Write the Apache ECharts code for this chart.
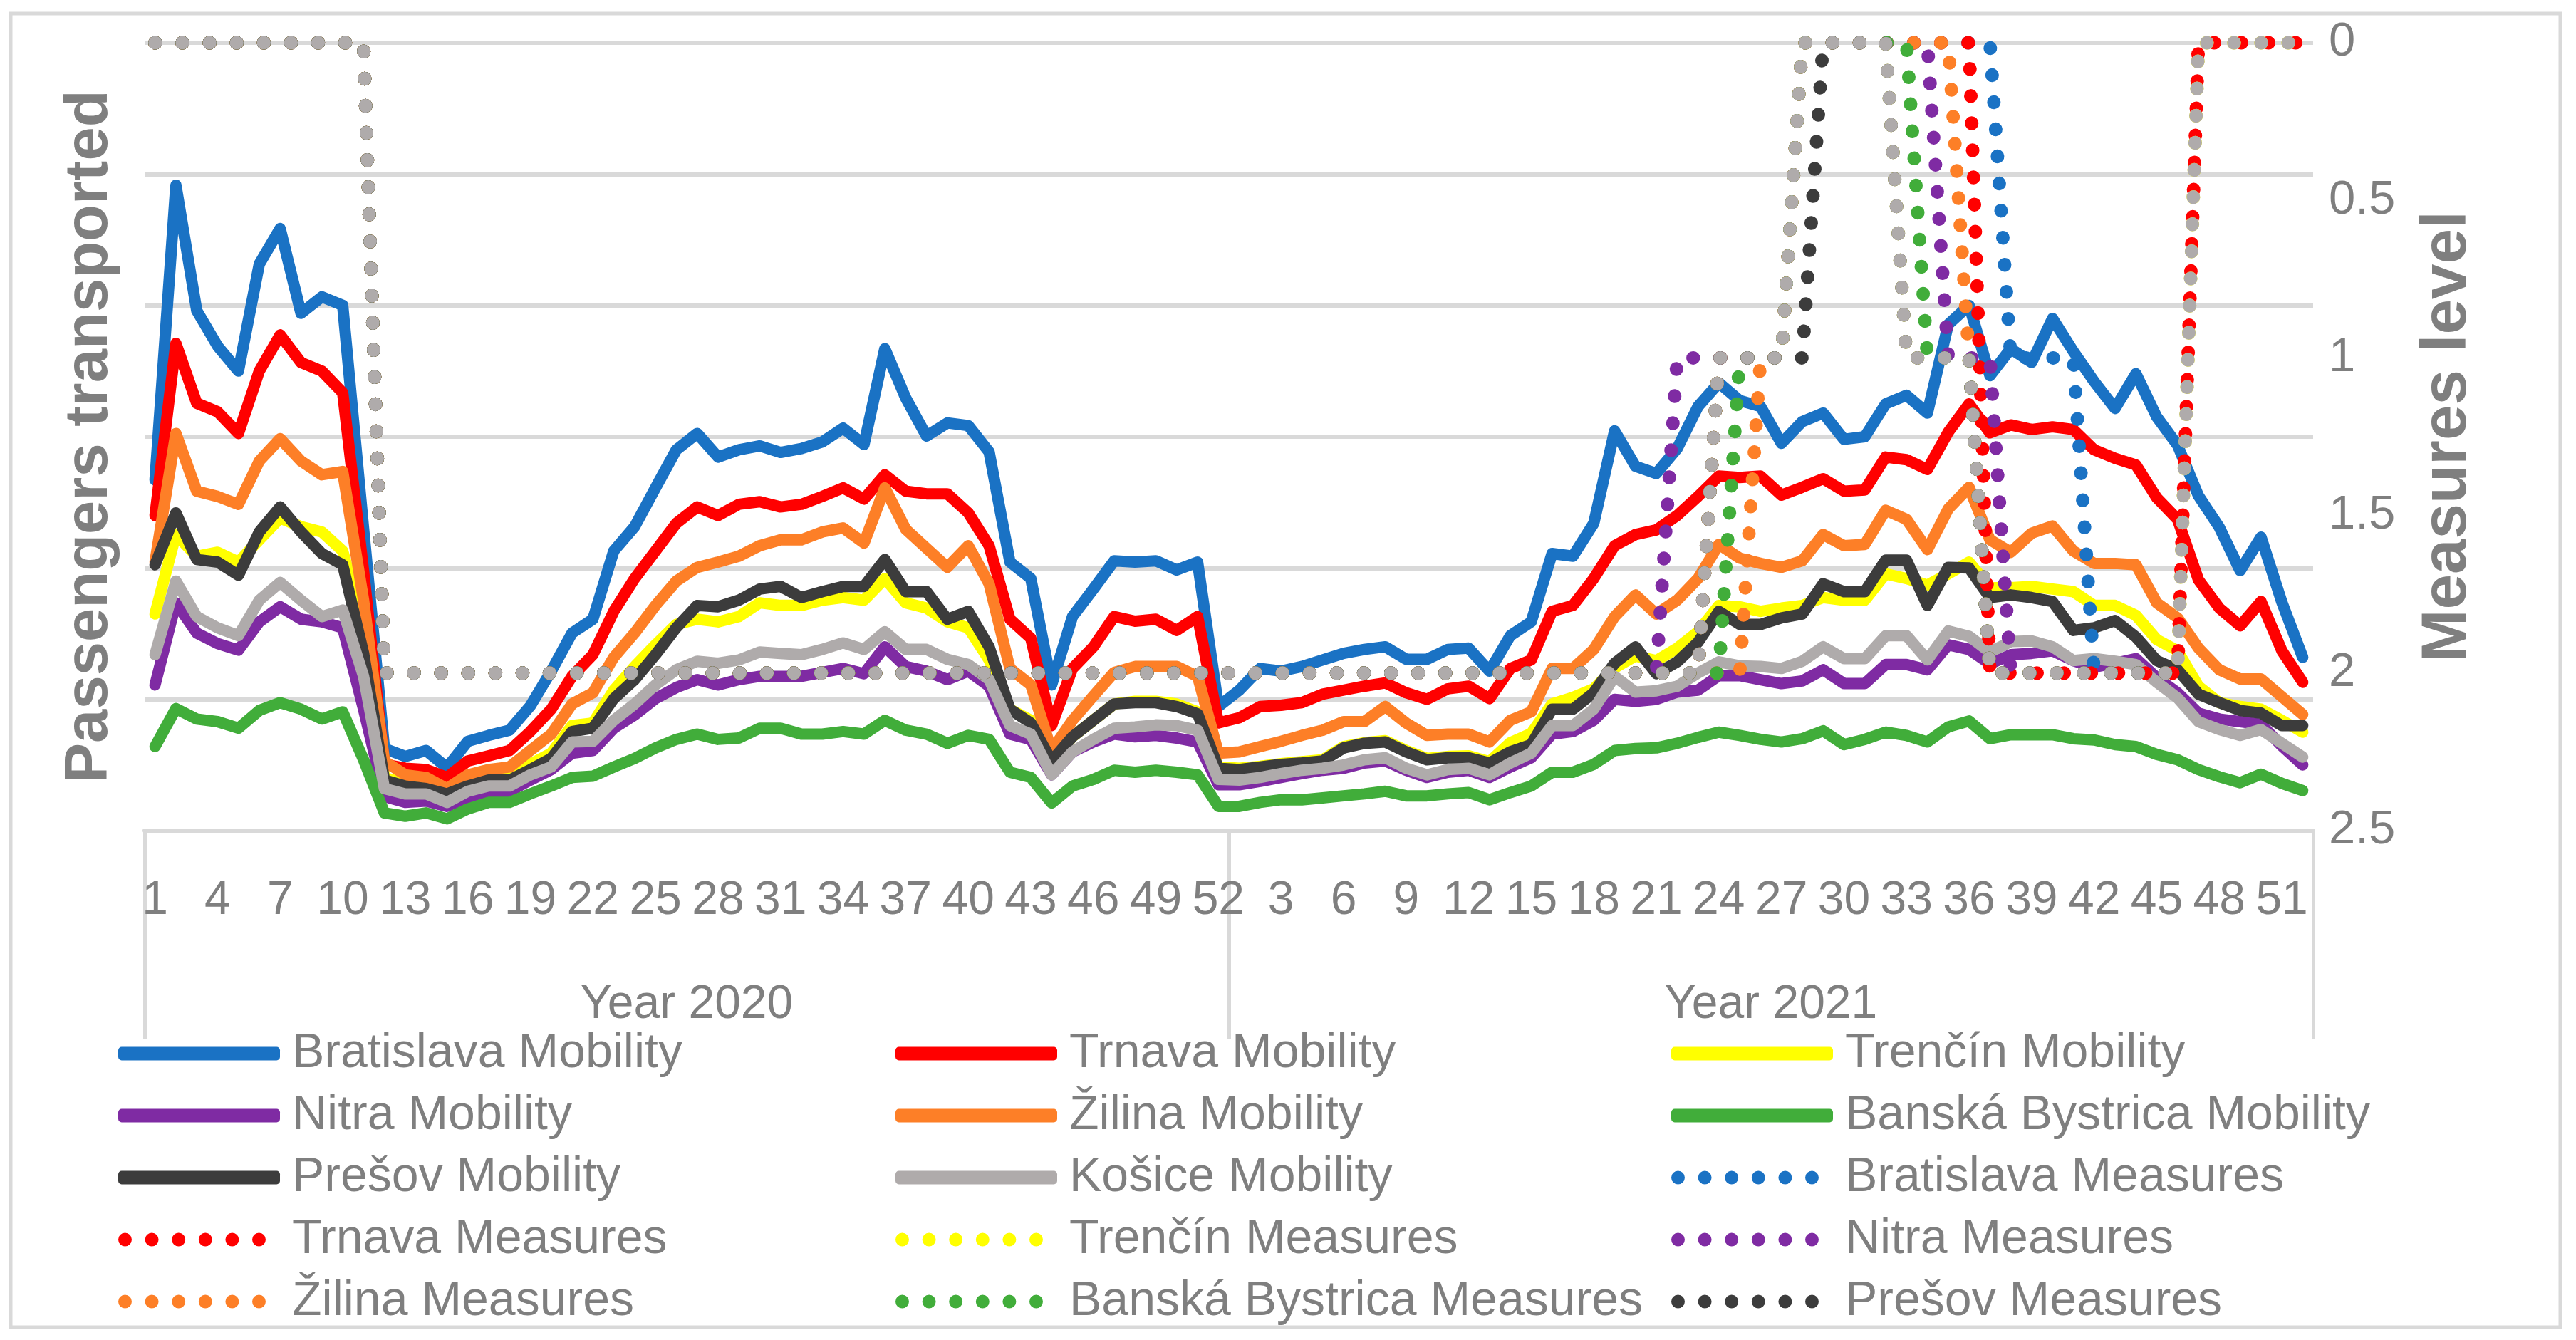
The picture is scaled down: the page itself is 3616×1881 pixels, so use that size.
<!DOCTYPE html>
<html>
<head>
<meta charset="utf-8">
<script src="https://cdn.jsdelivr.net/npm/echarts@6/dist/echarts.min.js"></script>
<style>
html,body{margin:0;padding:0;background:#fff;}
#chart{width:3616px;height:1881px;}
</style>
</head>
<body>
<div id="chart"></div>
<script>
// ---------- tick labels ----------
const weeks2020 = [1,2,3,4,5,6,7,8,9,10,11,12,13,14,15,16,17,18,19,20,21,22,23,24,25,26,27,28,29,30,31,32,33,34,35,36,37,38,39,40,41,42,43,44,45,46,47,48,49,50,51,52];
const weeks2021 = [1,2,3,4,5,6,7,8,9,10,11,12,13,14,15,16,17,18,19,20,21,22,23,24,25,26,27,28,29,30,31,32,33,34,35,36,37,38,39,40,41,42,43,44,45,46,47,48,49,50,51,52];
const yearLabels = ['Year 2020', 'Year 2021'];
const measureTicks = ['0', '0.5', '1', '1.5', '2', '2.5'];

// ---------- mobility (passengers transported, left axis) ----------
const bratislavaMobility = [
53.4,98.3,79.2,73.8,70.0,86.3,91.7,78.8,81.3,80.0,46.0,12.5,11.3,12.2,9.6,13.6,14.5,15.3,19.0,24.3,
30.1,32.2,42.6,46.3,52.2,58.0,60.5,56.9,58.0,58.6,57.6,58.2,59.2,61.3,58.8,73.4,65.9,60.1,62.1,61.7,
57.7,40.9,38.4,22.2,32.6,36.8,41.1,40.9,41.1,39.7,40.9,18.9,
21.4,24.7,24.3,25.0,26.0,27.0,27.6,28.0,26.1,26.1,27.6,27.8,24.3,29.7,31.8,42.2,41.8,46.8,60.9,55.5,
54.4,58.2,64.6,68.2,65.5,64.6,59.0,62.3,63.6,59.6,60.0,65.0,66.3,63.6,77.1,80.0,69.3,73.4,71.3,78.0,
73.0,68.4,64.3,69.6,63.0,58.7,51.0,46.2,39.6,44.7,34.8,26.4];
const trnavaMobility = [
48.0,74.2,65.1,63.8,60.5,70.0,75.5,71.3,70.0,66.7,39.5,10.1,9.5,9.3,8.1,10.6,11.4,12.2,15.1,18.5,
23.5,26.8,33.4,38.4,42.6,46.8,49.3,48.0,49.7,50.1,49.3,49.7,50.9,52.2,50.5,54.2,51.7,51.3,51.3,48.4,
43.4,32.2,29.3,16.0,24.7,28.0,32.6,31.9,32.2,30.5,32.6,16.4,
17.2,18.9,19.1,19.5,20.8,21.4,22.0,22.5,21.0,20.0,21.6,22.0,20.1,24.7,26.0,33.4,34.3,38.4,43.4,45.1,
45.8,48.0,50.9,54.0,53.8,54.0,51.1,52.3,53.6,51.7,51.9,56.9,56.5,55.0,60.7,65.0,60.6,61.8,61.1,61.5,
61.1,58.0,56.7,55.7,50.7,47.4,38.2,33.9,31.2,34.9,27.4,22.6];
const trencinMobility = [
33.0,45.1,41.8,42.4,40.9,44.3,47.6,46.3,45.5,42.6,31.0,8.1,7.2,6.8,5.8,7.2,8.1,8.3,10.1,11.8,
16.0,16.4,21.4,25.0,28.3,31.4,32.2,31.8,32.6,34.7,34.3,34.3,35.1,35.5,35.1,38.4,34.7,33.9,31.8,30.9,
26.0,18.5,16.8,10.6,14.3,16.8,19.3,19.7,19.7,19.3,18.1,9.7,
9.5,9.8,10.2,10.5,10.8,12.8,13.4,13.7,12.2,11.0,11.3,11.4,10.5,13.4,14.8,19.3,20.3,21.6,24.8,26.6,
25.9,27.8,30.3,34.3,34.1,33.4,33.9,34.3,35.5,35.1,35.1,39.1,38.4,37.4,39.1,40.9,37.0,37.0,37.2,36.8,
36.4,34.3,34.3,32.8,29.1,27.4,22.0,19.5,18.9,18.5,16.8,15.0];
const nitraMobility = [
22.2,34.7,30.1,28.5,27.5,31.8,34.1,32.2,31.8,30.9,18.5,5.2,4.3,4.5,3.7,5.0,5.6,6.0,7.7,9.3,
11.8,12.2,15.6,17.6,20.1,21.8,23.0,22.2,23.0,23.5,23.5,23.5,24.1,24.7,23.9,28.0,25.0,24.3,23.0,24.3,
22.0,14.7,13.9,8.5,12.0,13.5,14.7,14.3,14.5,14.1,13.5,7.0,
7.0,7.5,8.1,8.7,9.2,9.5,10.3,10.6,9.2,8.1,8.9,9.2,8.1,9.7,11.1,14.7,15.1,16.8,20.0,19.7,
20.0,21.1,21.4,23.6,23.6,23.0,22.4,22.8,24.5,22.4,22.4,25.3,25.3,24.5,28.3,27.6,25.4,26.8,27.0,27.4,
25.9,24.9,25.5,26.2,23.3,21.0,17.9,17.0,16.6,16.2,12.9,10.0];
const zilinaMobility = [
40.9,60.5,51.7,50.9,49.7,56.3,59.7,56.3,54.2,54.7,35.1,10.6,8.5,8.1,6.4,8.5,9.3,9.7,12.2,14.7,
19.3,21.0,26.4,30.1,34.3,38.0,40.1,40.9,41.8,43.4,44.3,44.3,45.5,46.1,43.8,52.2,45.9,43.0,40.1,43.4,
37.6,24.7,22.2,12.2,16.8,20.5,24.1,25.0,25.0,25.0,23.5,11.8,
12.0,12.8,13.6,14.5,15.3,16.6,16.6,18.9,16.4,14.5,14.7,14.7,13.5,16.8,18.1,24.7,24.7,27.6,32.6,35.9,
33.0,35.1,38.4,43.6,41.5,40.7,40.1,41.1,45.1,43.4,43.6,48.8,47.4,42.8,49.0,52.3,44.3,42.4,45.3,46.4,
42.6,40.7,40.7,40.5,34.7,32.4,27.8,24.5,23.1,23.1,20.4,17.7];
const banskaBystricaMobility = [
12.8,18.6,17.0,16.6,15.6,18.3,19.5,18.5,17.0,18.1,10.8,2.7,2.2,2.7,1.8,3.3,4.3,4.3,5.6,6.8,
8.1,8.3,9.7,11.0,12.6,13.9,14.7,13.9,14.1,15.6,15.6,14.7,14.7,15.1,14.7,16.8,15.3,14.7,13.3,14.5,
13.9,8.9,8.1,4.2,6.8,7.8,9.2,8.9,9.2,8.9,8.5,3.7,
3.7,4.3,4.7,4.7,5.0,5.3,5.6,6.0,5.3,5.3,5.6,5.8,4.7,5.8,6.8,8.9,8.9,10.1,12.2,12.5,
12.6,13.3,14.2,15.0,14.5,13.9,13.5,14.0,15.2,13.1,13.9,15.0,14.5,13.5,15.8,16.7,14.0,14.6,14.6,14.6,
14.0,13.8,13.1,12.8,11.6,10.8,9.3,8.2,7.3,8.6,7.2,6.1];
const presovMobility = [
40.5,48.4,41.3,40.9,38.9,45.5,49.3,45.5,42.2,40.5,27.0,7.7,6.8,6.4,5.6,6.8,7.7,7.7,9.3,11.0,
15.1,15.6,20.1,23.0,26.8,30.9,34.3,34.1,35.1,36.8,37.2,35.5,36.4,37.2,37.2,41.3,36.4,36.4,32.2,33.4,
28.0,18.5,16.4,10.6,14.3,16.8,19.3,19.5,19.5,18.9,17.8,9.5,
9.3,9.7,10.1,10.3,10.6,12.6,13.3,13.5,12.0,10.8,11.1,11.1,10.3,12.0,13.1,18.5,18.5,21.0,25.5,28.0,
23.9,25.7,28.7,33.4,31.4,31.4,32.4,33.0,37.6,36.4,36.4,41.2,41.2,34.3,40.1,40.0,35.5,35.9,35.5,34.9,
30.5,30.9,32.0,29.5,25.9,24.5,20.8,19.5,18.3,17.9,16.0,16.0];
const kosiceMobility = [
26.8,38.0,32.6,30.9,29.7,35.1,37.8,35.1,32.6,33.6,23.5,6.4,5.6,5.6,4.3,6.0,6.8,6.8,8.5,9.7,
13.5,13.6,16.8,19.3,22.2,24.5,25.8,25.5,26.0,27.2,27.0,26.8,27.6,28.6,27.6,30.3,27.6,27.6,26.1,25.3,
23.0,16.0,14.7,8.5,12.0,13.9,15.6,15.8,16.1,16.0,15.3,7.8,
7.7,8.1,8.7,9.2,9.5,10.0,10.8,11.1,9.5,8.5,9.3,9.5,8.5,10.3,11.8,16.0,16.0,18.5,23.5,21.1,
21.3,22.0,24.0,25.7,25.1,25.0,24.7,25.8,28.0,26.2,26.2,29.7,29.7,26.0,30.4,29.6,27.2,28.8,28.9,28.0,
25.9,26.2,25.8,25.3,22.6,20.2,16.6,15.4,14.5,15.4,13.3,11.2];

// ---------- measures level (right axis, inverted) ----------
const bratislavaMeasures = [
0,0,0,0,0,0,0,0,0,0,0,2,2,2,2,2,2,2,2,2,2,2,2,2,2,2,2,2,2,2,2,2,2,2,2,2,2,2,2,2,2,2,2,2,2,2,2,2,2,2,2,2,
2,2,2,2,2,2,2,2,2,2,2,2,2,2,2,2,2,2,2,2,2,2,2,1,1,1,1,0,0,0,0,0,0,0,0,0,0,1,1,1,1,2,2,2,2,2,null,null,null,null,null,null];
const trnavaMeasures = [
0,0,0,0,0,0,0,0,0,0,0,2,2,2,2,2,2,2,2,2,2,2,2,2,2,2,2,2,2,2,2,2,2,2,2,2,2,2,2,2,2,2,2,2,2,2,2,2,2,2,2,2,
2,2,2,2,2,2,2,2,2,2,2,2,2,2,2,2,2,2,2,2,2,2,2,1,1,1,1,0,0,0,0,0,0,0,0,0,2,2,2,2,2,2,2,2,2,2,0,0,0,0,0,0];
const trencinMeasures = [
0,0,0,0,0,0,0,0,0,0,0,2,2,2,2,2,2,2,2,2,2,2,2,2,2,2,2,2,2,2,2,2,2,2,2,2,2,2,2,2,2,2,2,2,2,2,2,2,2,2,2,2,
2,2,2,2,2,2,2,2,2,2,2,2,2,2,2,2,2,2,2,2,2,2,2,1,1,1,1,0,0,0,0,0,1,1,1,1,2,2,2,2,2,2,2,2,2,2,0,0,0,0,0,0];
const nitraMeasures = [
0,0,0,0,0,0,0,0,0,0,0,2,2,2,2,2,2,2,2,2,2,2,2,2,2,2,2,2,2,2,2,2,2,2,2,2,2,2,2,2,2,2,2,2,2,2,2,2,2,2,2,2,
2,2,2,2,2,2,2,2,2,2,2,2,2,2,2,2,2,2,2,2,2,1,1,1,1,1,1,0,0,0,0,0,0,0,1,1,1,2,2,2,2,2,2,2,2,2,null,null,null,null,null,null];
const zilinaMeasures = [
0,0,0,0,0,0,0,0,0,0,0,2,2,2,2,2,2,2,2,2,2,2,2,2,2,2,2,2,2,2,2,2,2,2,2,2,2,2,2,2,2,2,2,2,2,2,2,2,2,2,2,2,
2,2,2,2,2,2,2,2,2,2,2,2,2,2,2,2,2,2,2,2,2,2,2,2,2,1,1,0,0,0,0,0,0,0,0,1,2,2,2,2,2,2,2,2,2,2,null,null,null,null,null,null];
const banskaBystricaMeasures = [
0,0,0,0,0,0,0,0,0,0,0,2,2,2,2,2,2,2,2,2,2,2,2,2,2,2,2,2,2,2,2,2,2,2,2,2,2,2,2,2,2,2,2,2,2,2,2,2,2,2,2,2,
2,2,2,2,2,2,2,2,2,2,2,2,2,2,2,2,2,2,2,2,2,2,2,2,1,1,1,0,0,0,0,0,0,1,1,1,2,2,2,2,2,2,2,2,2,2,null,null,null,null,null,null];
const presovMeasures = [
0,0,0,0,0,0,0,0,0,0,0,2,2,2,2,2,2,2,2,2,2,2,2,2,2,2,2,2,2,2,2,2,2,2,2,2,2,2,2,2,2,2,2,2,2,2,2,2,2,2,2,2,
2,2,2,2,2,2,2,2,2,2,2,2,2,2,2,2,2,2,2,2,2,2,2,1,1,1,1,1,0,0,0,0,1,1,1,1,2,2,2,2,2,2,2,2,2,2,null,null,null,null,null,null];
const kosiceMeasures = [
0,0,0,0,0,0,0,0,0,0,0,2,2,2,2,2,2,2,2,2,2,2,2,2,2,2,2,2,2,2,2,2,2,2,2,2,2,2,2,2,2,2,2,2,2,2,2,2,2,2,2,2,
2,2,2,2,2,2,2,2,2,2,2,2,2,2,2,2,2,2,2,2,2,2,2,1,1,1,1,0,0,0,0,0,1,1,1,1,2,2,2,2,2,2,2,2,2,2,0,0,0,0,0,0];

// ---------- build ----------
const categories = weeks2020.map(w => '2020-' + w).concat(weeks2021.map(w => '2021-' + w));
const FONT = "'Liberation Sans', Arial, sans-serif";
const GRAY_TEXT = '#7f7f7f';
const GRID_COLOR = '#d9d9d9';
const C = {
  blue: '#1a72c4', red: '#ff0000', yellow: '#ffff00', purple: '#7f2ba3',
  orange: '#fd7f27', green: '#41ad3a', dark: '#3c3c3c', gray: '#afabab'
};

function mob(name, data, color) {
  return {
    name, type: 'line', data, xAxisIndex: 0, yAxisIndex: 0, symbol: 'none',
    lineStyle: { color, width: 16, cap: 'round', join: 'round' },
    itemStyle: { color }, animation: false, silent: true
  };
}
function meas(name, data, color) {
  return {
    name, type: 'line', data, xAxisIndex: 0, yAxisIndex: 1, symbol: 'none',
    lineStyle: { color, width: 19, type: [0.5, 37.6], cap: 'round', join: 'round' },
    itemStyle: { color }, animation: false, silent: true
  };
}

// dotted legend icon: six dots
let dotPath = 'path://';
for (let k = 0; k < 6; k++) {
  const cx = 9.5 + k * 37.6;
  dotPath += `M${cx - 9.5},9.5A9.5,9.5 0 1,0 ${cx + 9.5},9.5A9.5,9.5 0 1,0 ${cx - 9.5},9.5Z`;
}
dotPath += 'M227,9.5L227,9.5';

const legendColumns = [
  ['Bratislava Mobility', 'Nitra Mobility', 'Prešov Mobility', 'Trnava Measures', 'Žilina Measures'],
  ['Trnava Mobility', 'Žilina Mobility', 'Košice Mobility', 'Trenčín Measures', 'Banská Bystrica Measures'],
  ['Trenčín Mobility', 'Banská Bystrica Mobility', 'Bratislava Measures', 'Nitra Measures', 'Prešov Measures']
];
const legendLeft = [161, 1252, 2341];

const option = {
  animation: false,
  backgroundColor: '#ffffff',
  textStyle: { fontFamily: FONT },
  grid: { left: 203, right: 369, top: 60, bottom: 715, containLabel: false },
  graphic: [{
    type: 'rect', silent: true,
    shape: { x: 15, y: 19, width: 3579, height: 1844 },
    style: { fill: 'none', stroke: GRID_COLOR, lineWidth: 5 }
  }],
  legend: legendColumns.map((names, c) => ({
    orient: 'vertical', left: legendLeft[c], top: 1439,
    itemWidth: 227, itemHeight: 19, itemGap: 17, selectedMode: false,
    itemStyle: { borderWidth: 0 },
    textStyle: { fontSize: 68, color: GRAY_TEXT, fontFamily: FONT, lineHeight: 70, padding: [0, 0, 0, 12] },
    data: names.map(n => ({ name: n, icon: n.endsWith('Measures') ? dotPath : 'roundRect' }))
  })),
  xAxis: [{
    type: 'category', data: categories, boundaryGap: true, position: 'bottom',
    axisLine: { show: true, onZero: false, lineStyle: { color: GRID_COLOR, width: 6 } },
    axisTick: { show: false },
    splitLine: { show: false },
    axisLabel: {
      interval: 2, margin: 66, fontSize: 66, color: GRAY_TEXT, fontFamily: FONT,
      formatter: v => v.split('-')[1]
    }
  }, {
    type: 'category', data: yearLabels, boundaryGap: true, position: 'bottom',
    axisLine: { show: false, onZero: false },
    axisTick: { show: true, inside: false, interval: 0, length: 292, lineStyle: { color: GRID_COLOR, width: 5 } },
    splitLine: { show: false },
    axisLabel: { interval: 0, margin: 212, fontSize: 66, color: GRAY_TEXT, fontFamily: FONT }
  }],
  yAxis: [{
    type: 'value', min: 0, max: 120, interval: 20, position: 'left',
    axisLine: { show: false }, axisTick: { show: false }, axisLabel: { show: false },
    splitLine: { show: true, lineStyle: { color: GRID_COLOR, width: 6 } },
    name: 'Passengers transported', nameLocation: 'middle', nameRotate: 90, nameGap: 34,
    nameTextStyle: { fontSize: 85, fontWeight: 'bold', color: GRAY_TEXT, fontFamily: FONT }
  }, {
    type: 'value', min: 0, max: 2.5, interval: 0.5, inverse: true, position: 'right',
    axisLine: { show: false }, axisTick: { show: false }, splitLine: { show: false },
    axisLabel: {
      margin: 22, fontSize: 67, color: GRAY_TEXT, fontFamily: FONT,
      formatter: v => measureTicks[Math.round(v / 0.5)]
    },
    name: 'Measures level', nameLocation: 'middle', nameRotate: 90, nameGap: 145,
    nameTextStyle: { fontSize: 89, fontWeight: 'bold', color: GRAY_TEXT, fontFamily: FONT }
  }],
  series: [
    mob('Bratislava Mobility', bratislavaMobility, C.blue),
    mob('Trnava Mobility', trnavaMobility, C.red),
    mob('Trenčín Mobility', trencinMobility, C.yellow),
    mob('Nitra Mobility', nitraMobility, C.purple),
    mob('Žilina Mobility', zilinaMobility, C.orange),
    mob('Banská Bystrica Mobility', banskaBystricaMobility, C.green),
    mob('Prešov Mobility', presovMobility, C.dark),
    mob('Košice Mobility', kosiceMobility, C.gray),
    meas('Bratislava Measures', bratislavaMeasures, C.blue),
    meas('Trnava Measures', trnavaMeasures, C.red),
    meas('Trenčín Measures', trencinMeasures, C.yellow),
    meas('Nitra Measures', nitraMeasures, C.purple),
    meas('Žilina Measures', zilinaMeasures, C.orange),
    meas('Banská Bystrica Measures', banskaBystricaMeasures, C.green),
    meas('Prešov Measures', presovMeasures, C.dark),
    meas('Košice Measures', kosiceMeasures, C.gray)
  ]
};

const chart = echarts.init(document.getElementById('chart'), null, { renderer: 'canvas' });
chart.setOption(option);
</script>
</body>
</html>
